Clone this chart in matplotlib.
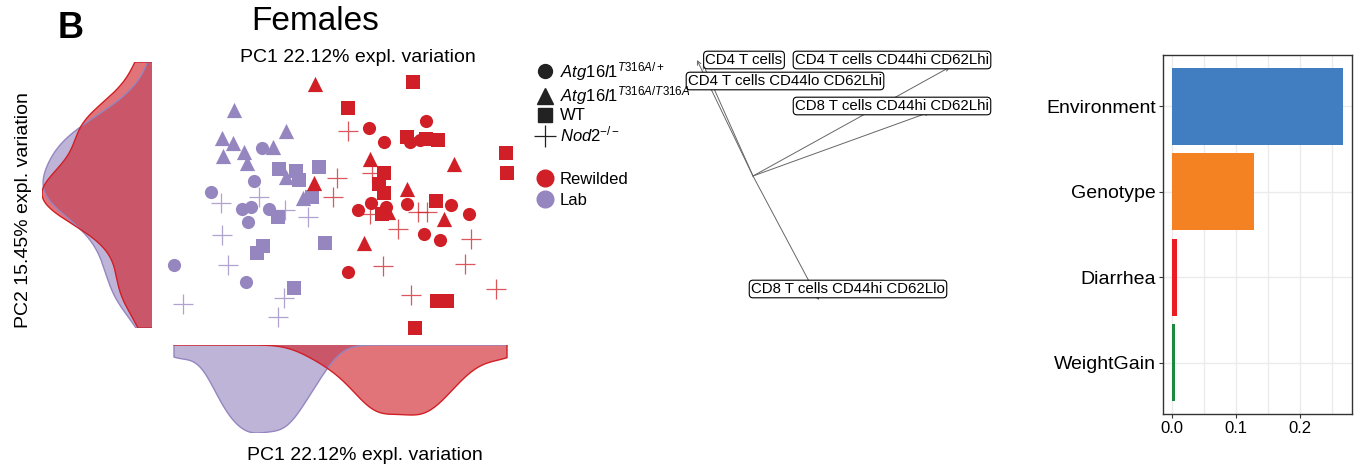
import numpy as np
import matplotlib
matplotlib.use('Agg')
import matplotlib.pyplot as plt
from matplotlib.lines import Line2D

plt.rcParams['font.family'] = ['Liberation Sans', 'DejaVu Sans']
plt.rcParams['mathtext.fontset'] = 'custom'
plt.rcParams['mathtext.rm'] = 'Liberation Sans'
plt.rcParams['mathtext.it'] = 'Liberation Sans:italic'

W, H = 1360, 472

# PCA scores (PC1, PC2) per environment and genotype
lab_het = [(-1.95, 1.30), (-2.15, 0.475), (-3.225, 0.20), (-2.45, -0.225), (-2.225, -0.175),
           (-1.775, -0.225), (-2.30, -0.55), (-4.15, -1.625), (-2.35, -2.05)]
lab_hom = [(-2.65, 2.25), (-2.95, 1.55), (-2.675, 1.425), (-2.925, 1.10), (-2.40, 1.20),
           (-2.325, 0.925), (-1.35, 1.725), (-1.675, 1.325), (-1.35, 0.575), (-0.925, 0.05)]
lab_wt = [(-1.525, 0.775), (-1.10, 0.725), (-1.025, 0.50), (-0.525, 0.825), (-0.70, 0.075),
          (-1.55, -0.425), (-1.925, -1.15), (-2.075, -1.325), (-0.375, -1.075), (-1.15, -2.20)]
lab_nod2 = [(-2.975, -0.075), (-2.025, 0.075), (-1.375, -0.25), (-0.80, -0.425), (-2.95, -0.875),
            (-2.80, -1.625), (-3.925, -2.60), (-1.40, -2.45), (-1.55, -2.925)]

rew_het = [(2.15, 1.975), (0.725, 1.80), (1.10, 1.45), (1.75, 1.45), (2.00, 1.50), (0.45, -0.25),
           (0.775, -0.075), (1.15, -0.175), (1.675, -0.10), (2.775, -0.125), (3.225, -0.35),
           (2.10, -0.85), (2.50, -1.00), (0.20, -1.80)]
rew_hom = [(-0.625, 2.90), (0.75, 1.025), (-0.65, 0.425), (1.675, 0.275), (2.85, 0.90),
           (2.60, -0.475), (0.60, -1.075), (1.20, -0.30)]
rew_wt = [(1.825, 2.95), (0.20, 2.30), (1.675, 1.575), (2.15, 1.525), (2.45, 1.50), (4.15, 1.175),
          (4.175, 0.675), (1.10, 0.675), (0.975, 0.40), (1.10, 0.175), (1.05, -0.35), (2.40, -0.025),
          (2.425, -2.525), (2.675, -2.525), (1.875, -3.20)]
rew_nod2 = [(0.20, 1.725), (-0.075, 0.55), (-0.175, 0.075), (0.80, 0.675), (0.75, -0.35),
            (1.45, -0.725), (1.95, -0.30), (2.175, -0.30), (3.275, -0.975), (1.075, -1.65),
            (3.125, -1.60), (3.90, -2.225), (1.775, -2.375)]

pc1_label = 'PC1 22.12% expl. variation'
pc2_label = 'PC2 15.45% expl. variation'

# loadings of the top variables
load_names = ['CD4 T cells', 'CD4 T cells CD44lo CD62Lhi', 'CD4 T cells CD44hi CD62Lhi',
              'CD8 T cells CD44hi CD62Lhi', 'CD8 T cells CD44hi CD62Llo']
load_pc1 = [-0.56, -0.50, 1.97, 1.77, 0.66]
load_pc2 = [1.16, 1.12, 1.09, 0.64, -1.24]
label_pos = [(-0.09, 1.16), (0.32, 0.95), (1.39, 1.16), (1.39, 0.70), (0.95, -1.13)]

# explained variance per factor
factors = ['Environment', 'Genotype', 'Diarrhea', 'WeightGain']
variance = [0.267, 0.129, 0.009, 0.006]
bar_colors = ['#407EC1', '#F58222', '#EC1C24', '#1C8A3E']

RED = '#D01F26'
PURPLE = '#9686C0'

def box(x0, y0, x1, y1):
    return [x0 / W, 1 - y1 / H, (x1 - x0) / W, (y1 - y0) / H]

def kde(v, grid):
    v = np.asarray(v)
    n = len(v)
    q75, q25 = np.percentile(v, [75, 25])
    bw = 0.9 * min(v.std(ddof=1), (q75 - q25) / 1.34) * n ** -0.2
    z = (grid[:, None] - v[None, :]) / bw
    return np.exp(-0.5 * z ** 2).sum(1) / (n * bw * np.sqrt(2 * np.pi))

fig = plt.figure(figsize=(W / 100, H / 100), dpi=100)

# scatter
ax = fig.add_axes(box(160, 70, 520, 340))
shapes = [('o', 90), ('^', 120), ('s', 105), ('+', 210)]
groups = {PURPLE: [lab_het, lab_hom, lab_wt, lab_nod2], RED: [rew_het, rew_hom, rew_wt, rew_nod2]}
for col, sets in groups.items():
    for (m, s), pts in zip(shapes, sets):
        p = np.array(pts)
        if m == '+':
            ax.scatter(p[:, 0], p[:, 1], marker=m, s=s, color=col, linewidths=0.9, alpha=0.75)
        else:
            ax.scatter(p[:, 0], p[:, 1], marker=m, s=s, color=col, linewidths=0)
ax.set_xlim(-4.5, 4.5)
ax.set_ylim(-3.5, 3.25)
ax.axis('off')

lab_all = np.array(lab_het + lab_hom + lab_wt + lab_nod2)
rew_all = np.array(rew_het + rew_hom + rew_wt + rew_nod2)
both = np.vstack([lab_all, rew_all])

# PC1 density below
gx = np.linspace(both[:, 0].min(), both[:, 0].max(), 300)
dl, dr = kde(lab_all[:, 0], gx), kde(rew_all[:, 0], gx)
axb = fig.add_axes(box(160, 345, 520, 433))
for d, col in [(dl, PURPLE), (dr, RED)]:
    xs = np.concatenate([[gx[0]], gx, [gx[-1]]])
    ys = np.concatenate([[0], d, [0]])
    axb.fill(xs, ys, facecolor=col, alpha=0.62, edgecolor='none')
    axb.plot(xs, ys, color=col, lw=1)
axb.set_xlim(-4.5, 4.5)
axb.set_ylim(max(dl.max(), dr.max()), 0)
axb.axis('off')

# PC2 density left
gy = np.linspace(both[:, 1].min(), both[:, 1].max(), 300)
dl2, dr2 = kde(lab_all[:, 1], gy), kde(rew_all[:, 1], gy)
axl = fig.add_axes(box(42, 62, 152, 328))
for d, col in [(dl2, PURPLE), (dr2, RED)]:
    ys = np.concatenate([[gy[0]], gy, [gy[-1]]])
    xs = np.concatenate([[0], d, [0]])
    axl.fill(xs, ys, facecolor=col, alpha=0.62, edgecolor='none')
    axl.plot(xs, ys, color=col, lw=1)
axl.set_ylim(gy[0], gy[-1])
axl.set_xlim(max(dl2.max(), dr2.max()), 0)
axl.axis('off')

fig.text(71 / W, 1 - 28 / H, 'B', fontsize=26, fontweight='bold', ha='center', va='center')
fig.text(315 / W, 1 - 22 / H, 'Females', fontsize=24, ha='center', va='center')
fig.text(358 / W, 1 - 58 / H, pc1_label, fontsize=14, ha='center', va='center')
fig.text(365 / W, 1 - 455 / H, pc1_label, fontsize=14, ha='center', va='center')
fig.text(24 / W, 1 - 210 / H, pc2_label, fontsize=14, ha='center', va='center', rotation=90)

# legends
shape_handles = [
    Line2D([], [], marker='o', ls='none', color='#222222', ms=10),
    Line2D([], [], marker='^', ls='none', color='#222222', ms=11),
    Line2D([], [], marker='s', ls='none', color='#222222', ms=9.5),
    Line2D([], [], marker='+', ls='none', color='#222222', ms=16, mew=0.9),
]
shape_labels = [r'$\mathit{Atg16l1}^{\mathit{T316A/+}}$', r'$\mathit{Atg16l1}^{\mathit{T316A/T316A}}$',
                'WT', r'$\mathit{Nod2}^{-/-}$']
fig.legend(shape_handles, shape_labels, loc='upper left', bbox_to_anchor=(535 / W, 1 - 60 / H),
           frameon=False, fontsize=12, handletextpad=0.3, labelspacing=0.08,
           handlelength=1.2, borderpad=0, borderaxespad=0)
env_handles = [Line2D([], [], marker='o', ls='none', color=RED, ms=12),
               Line2D([], [], marker='o', ls='none', color=PURPLE, ms=12)]
fig.legend(env_handles, ['Rewilded', 'Lab'], loc='upper left', bbox_to_anchor=(535 / W, 1 - 172 / H),
           frameon=False, fontsize=12, handletextpad=0.3, labelspacing=0.35,
           handlelength=1.2, borderpad=0, borderaxespad=0)

# loadings
axm = fig.add_axes(box(680, 40, 1000, 310))
for x, y in zip(load_pc1, load_pc2):
    axm.annotate('', xy=(x, y), xytext=(0, 0),
                 arrowprops=dict(arrowstyle='->', color='#666666', lw=0.7,
                                 mutation_scale=7, shrinkA=0, shrinkB=0))
for name, (lx, ly) in zip(load_names, label_pos):
    axm.text(lx, ly, name, fontsize=10.8, ha='center', va='center',
             bbox=dict(boxstyle='round,pad=0.12,rounding_size=0.25', fc='white', ec='black', lw=0.8))
axm.set_xlim(-0.73, 2.47)
axm.set_ylim(-1.34, 1.36)
axm.axis('off')

# variance explained bars
axr = fig.add_axes(box(1163, 55, 1352, 414))
ypos = np.arange(len(factors))[::-1] + 1
axr.barh(ypos, variance, height=0.9, color=bar_colors, zorder=3)
axr.set_yticks(ypos)
axr.set_yticklabels(factors, fontsize=14)
axr.set_xticks([0, 0.1, 0.2])
axr.set_xticklabels(['0.0', '0.1', '0.2'], fontsize=12)
axr.set_xticks([0.05, 0.15, 0.25], minor=True)
axr.set_xlim(-0.0134, 0.281)
axr.set_ylim(0.4, 4.6)
axr.grid(True, which='both', color='#EBEBEB', lw=1, zorder=0)
axr.tick_params(axis='both', which='major', length=3, width=0.8, color='#333333', pad=2)
axr.tick_params(axis='x', which='minor', length=0)
for sp in axr.spines.values():
    sp.set_color('#333333')
    sp.set_linewidth(1)

fig.savefig('out.png', dpi=100)
